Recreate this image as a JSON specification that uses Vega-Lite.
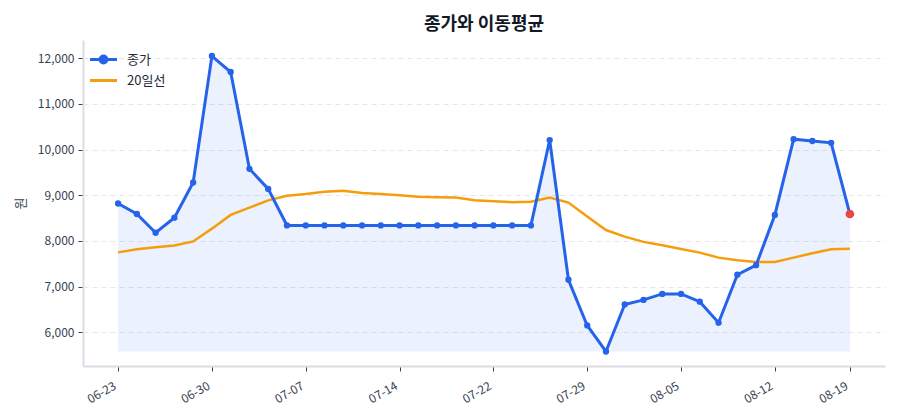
{
  "$schema": "https://vega.github.io/schema/vega-lite/v6.json",
  "width": 802,
  "height": 326,
  "autosize": {"type": "none"},
  "padding": {"left": 83, "top": 40, "right": 15, "bottom": 54},
  "title": {
    "text": "종가와 이동평균",
    "fontSize": 18,
    "fontWeight": "bold",
    "color": "#111827",
    "anchor": "middle",
    "offset": 6
  },
  "data": {
    "values": [
      {"date": "06-23", "close": 8820, "ma": 7750},
      {"date": "06-24", "close": 8590, "ma": 7820},
      {"date": "06-25", "close": 8180, "ma": 7860},
      {"date": "06-26", "close": 8510, "ma": 7900},
      {"date": "06-27", "close": 9280, "ma": 7990},
      {"date": "06-30", "close": 12050, "ma": 8270},
      {"date": "07-01", "close": 11700, "ma": 8570},
      {"date": "07-02", "close": 9580, "ma": 8730},
      {"date": "07-03", "close": 9140, "ma": 8890},
      {"date": "07-04", "close": 8340, "ma": 8990},
      {"date": "07-07", "close": 8340, "ma": 9030},
      {"date": "07-08", "close": 8340, "ma": 9080},
      {"date": "07-09", "close": 8340, "ma": 9100},
      {"date": "07-10", "close": 8340, "ma": 9050},
      {"date": "07-11", "close": 8340, "ma": 9030},
      {"date": "07-14", "close": 8340, "ma": 9000},
      {"date": "07-15", "close": 8340, "ma": 8970},
      {"date": "07-16", "close": 8340, "ma": 8960},
      {"date": "07-17", "close": 8340, "ma": 8950},
      {"date": "07-18", "close": 8340, "ma": 8890},
      {"date": "07-22", "close": 8340, "ma": 8870},
      {"date": "07-23", "close": 8340, "ma": 8850},
      {"date": "07-24", "close": 8340, "ma": 8860},
      {"date": "07-25", "close": 10210, "ma": 8950},
      {"date": "07-28", "close": 7150, "ma": 8840},
      {"date": "07-29", "close": 6150, "ma": 8535},
      {"date": "07-30", "close": 5580, "ma": 8240},
      {"date": "07-31", "close": 6610, "ma": 8095},
      {"date": "08-01", "close": 6710, "ma": 7980},
      {"date": "08-04", "close": 6840, "ma": 7905},
      {"date": "08-05", "close": 6840, "ma": 7825},
      {"date": "08-06", "close": 6670, "ma": 7745},
      {"date": "08-07", "close": 6210, "ma": 7635},
      {"date": "08-08", "close": 7260, "ma": 7580},
      {"date": "08-11", "close": 7470, "ma": 7540},
      {"date": "08-12", "close": 8570, "ma": 7540},
      {"date": "08-13", "close": 10230, "ma": 7635},
      {"date": "08-14", "close": 10190, "ma": 7730},
      {"date": "08-18", "close": 10150, "ma": 7820},
      {"date": "08-19", "close": 8590, "ma": 7830}
    ]
  },
  "transform": [
    {"joinaggregate": [{"op": "min", "field": "close", "as": "minClose"}]}
  ],
  "encoding": {
    "x": {
      "field": "date",
      "type": "ordinal",
      "title": null,
      "scale": {
        "type": "point",
        "padding": 0.87,
        "domain": [
          "pad-start",
          "06-23", "06-24", "06-25", "06-26", "06-27",
          "06-30", "07-01", "07-02", "07-03", "07-04",
          "07-07", "07-08", "07-09", "07-10", "07-11",
          "07-14", "07-15", "07-16", "07-17", "07-18",
          "07-22", "07-23", "07-24", "07-25", "07-28",
          "07-29", "07-30", "07-31", "08-01", "08-04",
          "08-05", "08-06", "08-07", "08-08", "08-11",
          "08-12", "08-13", "08-14", "08-18", "08-19",
          "pad-end"
        ]
      },
      "axis": {
        "values": ["06-23", "06-30", "07-07", "07-14", "07-22", "07-29", "08-05", "08-12", "08-19"],
        "labelAngle": -30,
        "labelAlign": "right",
        "labelBaseline": "top",
        "labelOffset": -6,
        "labelPadding": 9,
        "grid": false
      }
    }
  },
  "layer": [
    {
      "mark": {"type": "area", "color": "#2563eb", "opacity": 0.09},
      "encoding": {
        "y": {
          "field": "close",
          "type": "quantitative",
          "title": "원",
          "scale": {"domain": [5262, 12401], "nice": false, "zero": false},
          "axis": {"format": ",.0f", "values": [6000, 7000, 8000, 9000, 10000, 11000, 12000]}
        },
        "y2": {"field": "minClose"}
      }
    },
    {
      "mark": {"type": "line", "strokeWidth": 2.5},
      "encoding": {
        "y": {
          "field": "ma",
          "type": "quantitative",
          "title": "원",
          "axis": {"format": ",.0f", "values": [6000, 7000, 8000, 9000, 10000, 11000, 12000]}
        },
        "color": {
          "datum": "20일선",
          "scale": {"domain": ["종가", "20일선"], "range": ["#2563eb", "#f59e0b"]},
          "legend": {
            "title": null,
            "orient": "none",
            "legendX": 10,
            "legendY": 9,
            "padding": 0,
            "symbolSize": 324,
            "symbolStrokeWidth": 3,
            "labelFontSize": 13,
            "labelColor": "#1f2937",
            "labelOffset": 13,
            "rowPadding": 1,
            "encode": {
              "symbols": {
                "update": {
                  "shape": {"signal": "datum.value === '종가' ? 'M-1.5,0L1.5,0M0.38,0A0.38,0.38,0,1,1,-0.38,0A0.38,0.38,0,1,1,0.38,0Z' : 'M-1.5,0L1.5,0'"},
                  "fill": {"signal": "datum.value === '종가' ? '#2563eb' : 'transparent'"}
                }
              }
            }
          }
        }
      }
    },
    {
      "mark": {"type": "line", "strokeWidth": 3, "point": {"size": 40, "filled": true}},
      "encoding": {
        "y": {
          "field": "close",
          "type": "quantitative",
          "title": "원",
          "axis": {"format": ",.0f", "values": [6000, 7000, 8000, 9000, 10000, 11000, 12000]}
        },
        "color": {"datum": "종가"}
      }
    },
    {
      "transform": [{"filter": "datum.date === '08-19'"}],
      "mark": {"type": "circle", "color": "#ef4444", "size": 75, "opacity": 1},
      "encoding": {
        "y": {
          "field": "close",
          "type": "quantitative",
          "title": "원",
          "axis": {"format": ",.0f", "values": [6000, 7000, 8000, 9000, 10000, 11000, 12000]}
        }
      }
    }
  ],
  "config": {
    "font": "Noto Sans CJK KR",
    "view": {"stroke": null},
    "axis": {
      "labelFontSize": 12,
      "labelColor": "#374151",
      "titleFontSize": 13,
      "titleColor": "#374151",
      "titleFontWeight": "normal",
      "domainColor": "#d9dde3",
      "domainWidth": 2,
      "tickColor": "#374151",
      "tickSize": 5,
      "tickWidth": 1
    },
    "axisY": {
      "gridColor": "#e5e7eb",
      "gridDash": [5, 4],
      "gridWidth": 1,
      "labelPadding": 4,
      "titlePadding": 10
    }
  }
}
